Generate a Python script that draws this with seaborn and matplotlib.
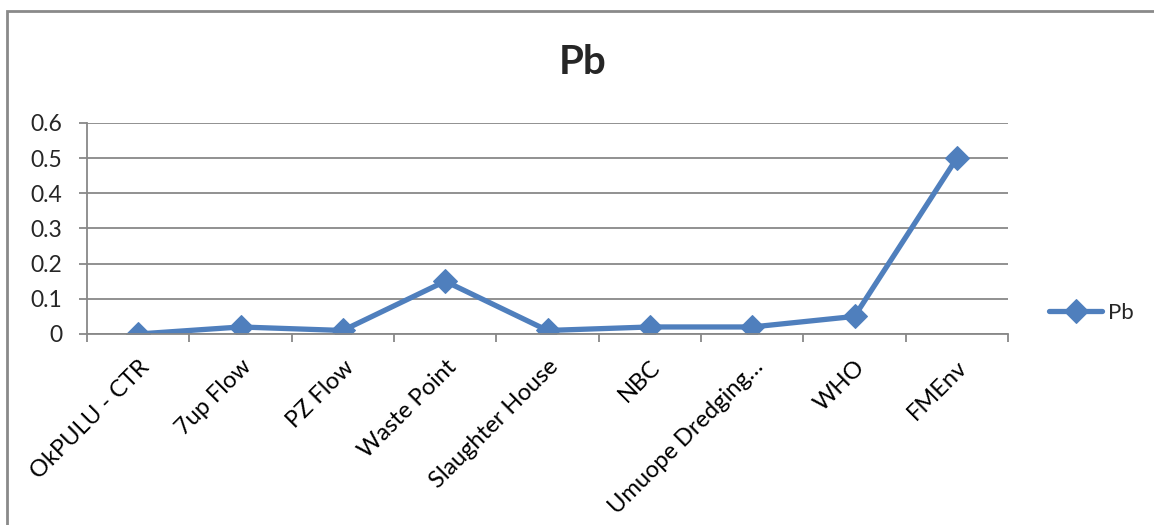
import matplotlib
matplotlib.use("Agg")
import matplotlib.pyplot as plt
import seaborn as sns
import pandas as pd
from matplotlib.patches import Rectangle
from matplotlib.ticker import FixedLocator

# Data
sites = ["OkPULU - CTR", "7up Flow", "PZ Flow", "Waste Point", "Slaughter House",
         "NBC", "Umuope Dredging…", "WHO", "FMEnv"]
pb_values = [0.0, 0.02, 0.01, 0.15, 0.01, 0.02, 0.02, 0.05, 0.5]
y_ticks = [0, 0.1, 0.2, 0.3, 0.4, 0.5, 0.6]
y_tick_labels = ["0", "0.1", "0.2", "0.3", "0.4", "0.5", "0.6"]

df = pd.DataFrame({"site": sites, "Pb": pb_values})

sns.set_theme(style="white")
plt.rcParams["font.family"] = ["Lato", "DejaVu Sans"]

W, H = 1154, 525
fig = plt.figure(figsize=(W / 100, H / 100), dpi=100)
ax = fig.add_axes([87 / W, 1 - 334 / H, (1008 - 87) / W, (334 - 123) / H])

blue = "#4F7FBD"
grid_col = "#888888"

sns.lineplot(data=df, x="site", y="Pb", ax=ax, sort=False, color=blue,
             linewidth=3.8, marker="D", markersize=12, markeredgecolor=blue,
             label="Pb", legend=False)

ax.set_xlim(-0.5, len(sites) - 0.5)
ax.set_ylim(0, 0.6)
ax.set_yticks(y_ticks)
ax.set_yticklabels(y_tick_labels, fontsize=16.5)
ax.set_xticks(range(len(sites)))
ax.set_xticklabels(sites, rotation=45, ha="right", rotation_mode="anchor", fontsize=17)
ax.xaxis.set_minor_locator(FixedLocator([i - 0.5 for i in range(len(sites) + 1)]))
ax.tick_params(axis="x", which="major", length=0, pad=16, colors="black")
ax.tick_params(axis="x", which="minor", length=6, width=1.3, color=grid_col, bottom=True)
ax.tick_params(axis="y", which="major", length=6, width=1.3, color=grid_col, left=True, pad=12)
ax.set_xlabel("")
ax.set_ylabel("")

ax.grid(axis="y", color=grid_col, linewidth=1.3)
ax.grid(axis="x", visible=False)
ax.set_axisbelow(True)
for side in ["top", "right"]:
    ax.spines[side].set_visible(False)
for side in ["left", "bottom"]:
    ax.spines[side].set_color(grid_col)
    ax.spines[side].set_linewidth(1.3)

fig.text(583 / W, 1 - 62 / H, "Pb", ha="center", va="center",
         fontsize=29, fontweight="bold")

handles, labels = ax.get_legend_handles_labels()
fig.legend(handles, labels, loc="center left", bbox_to_anchor=(1029 / W, 1 - 313 / H),
           frameon=False, fontsize=16, handlelength=2.4, handletextpad=0.25)

# Chart frame
fig.patches.append(Rectangle((7 / W, -0.1), 1.2, 1 - 11 / H + 0.1,
                             transform=fig.transFigure, fill=False,
                             edgecolor="#8a8a8a", linewidth=2, zorder=0))

fig.savefig("out.png", dpi=100)
